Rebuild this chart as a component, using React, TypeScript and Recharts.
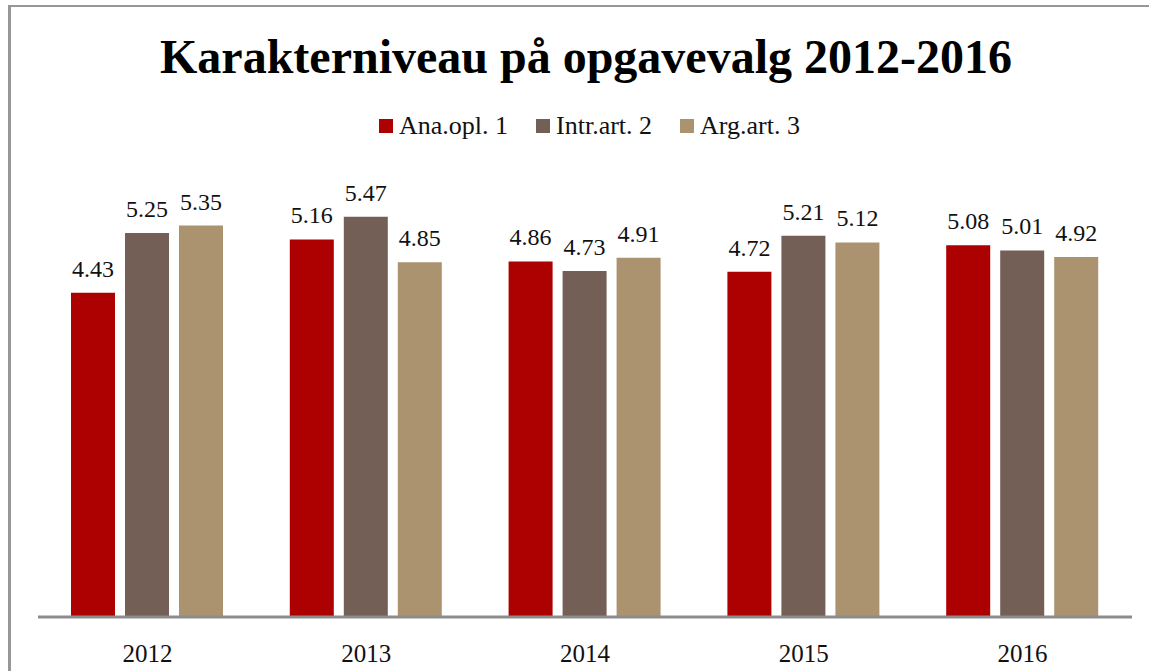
import React from 'react';
import { BarChart, Bar, XAxis, YAxis, LabelList } from 'recharts';

const years = ['2012', '2013', '2014', '2015', '2016'];
const anaOpl1 = [4.43, 5.16, 4.86, 4.72, 5.08];
const intrArt2 = [5.25, 5.47, 4.73, 5.21, 5.01];
const argArt3 = [5.35, 4.85, 4.91, 5.12, 4.92];

const seriesNames = ['Ana.opl. 1', 'Intr.art. 2', 'Arg.art. 3'];
const seriesKeys = ['a', 'b', 'c'];
const seriesColors = ['#ad0000', '#735f55', '#ab9370'];

const data = years.map((y, i) => ({ year: y, a: anaOpl1[i], b: intrArt2[i], c: argArt3[i] }));

const FONT = 'Liberation Serif';

const renderLabel = (props: any) => {
  const { x, y, width, value } = props;
  return (
    <text x={x + width / 2} y={y - 16} textAnchor="middle" fontFamily={FONT} fontSize={24} fill="#111">
      {Number(value).toFixed(2)}
    </text>
  );
};

export default function App() {
  return (
    <div style={{ position: 'absolute', left: 0, top: 0, width: 1149, height: 671, overflow: 'hidden', background: '#fff', fontFamily: FONT }}>
      <div style={{ position: 'absolute', left: 8, top: 5, width: 1300, height: 800, borderLeft: '3px solid #979797', borderTop: '2.5px solid #979797', boxSizing: 'border-box' }} />
      <div style={{ position: 'absolute', left: 586, top: 33, transform: 'translateX(-50%)', whiteSpace: 'nowrap', fontFamily: FONT, fontWeight: 'bold', fontSize: 48, lineHeight: '48px', color: '#000' }}>
        Karakterniveau på opgavevalg 2012-2016
      </div>
      <div style={{ position: 'absolute', left: 0, top: 0 }}>
        <BarChart width={1149} height={671} data={data} margin={{ top: 178, right: 17, bottom: 24, left: 38 }} barSize={44} barGap={10}>
          <YAxis hide domain={[0, 6]} />
          <XAxis dataKey="year" tickLine={false} tickSize={0} tickMargin={27} height={30} axisLine={{ stroke: '#8c8c8c', strokeWidth: 3 }} tick={{ fontFamily: FONT, fontSize: 25, fill: '#111' }} interval={0} />
          {seriesKeys.map((k, i) => (
            <Bar key={k} dataKey={k} name={seriesNames[i]} fill={seriesColors[i]} isAnimationActive={false}>
              <LabelList dataKey={k} content={renderLabel} />
            </Bar>
          ))}
        </BarChart>
      </div>
      <div style={{ position: 'absolute', left: 15, top: 111, width: 1149, display: 'flex', justifyContent: 'center', alignItems: 'center', fontFamily: FONT, fontSize: 26, lineHeight: '30px', color: '#111' }}>
        {seriesNames.map((n, i) => (
          <div key={n} style={{ display: 'flex', alignItems: 'center', marginRight: i < 2 ? 28 : 0 }}>
            <span style={{ display: 'inline-block', width: 14, height: 14, background: seriesColors[i], marginRight: 6 }} />
            <span>{n}</span>
          </div>
        ))}
      </div>
    </div>
  );
}
